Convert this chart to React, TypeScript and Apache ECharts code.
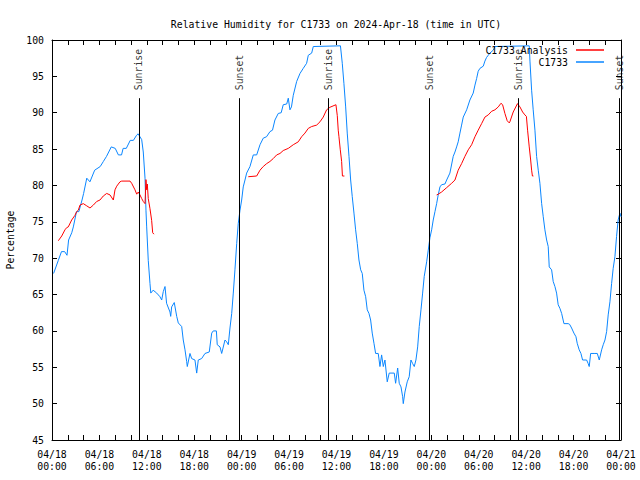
import React, { useEffect, useRef } from 'react';
import * as echarts from 'echarts';

const TITLE = 'Relative Humidity for C1733 on 2024-Apr-18 (time in UTC)';
const STATION = 'C1733';
const ANALYSIS = 'C1733 Analysis';
const Y_NAME = 'Percentage';

// hours after 2024-04-18 00:00 UTC
const sunriseHours = [11, 35, 59];
const sunsetHours = [23.75, 47.75, 71.75];
const eventTop = 92;

const stationHumidity: [number, number][] = [
  [0.2, 67.9], [0.8, 69.7], [1.2, 70.9], [1.6, 70.9], [1.9, 70.4], [2.1, 72.5], [2.5, 73.5], [2.7, 74.3],
  [3.1, 76.4], [3.4, 76.4], [3.8, 78], [4.0, 78.9], [4.4, 81], [4.8, 80.5], [5.4, 82.1], [6.1, 82.6],
  [6.5, 83.3], [6.9, 84], [7.5, 85.3], [8.0, 85.1], [8.4, 84.2], [8.8, 84.2], [9.0, 85.1], [9.4, 85.1],
  [9.9, 86.2], [10.3, 86.2], [10.7, 86.9], [10.9, 87.1], [11.35, 86.3], [11.55, 84.6], [11.77, 81],
  [11.89, 76.6], [11.98, 74.3], [12.18, 69.7], [12.4, 66.5], [12.5, 65.2], [12.8, 65.6], [13.25, 65.2],
  [13.66, 64.7], [13.88, 64.25], [14.08, 65.4], [14.3, 66.1], [14.5, 63.8], [14.93, 62.6], [15.02, 62],
  [15.14, 63.3], [15.47, 63.9], [15.78, 62], [15.98, 61.1], [16.41, 60.6], [16.61, 58.75], [16.83, 57.4],
  [17.04, 55.8], [17.12, 55.1], [17.46, 56.9], [17.67, 56.2], [18.09, 56], [18.31, 54.2], [18.51, 56],
  [18.94, 56.2], [19.36, 56.9], [19.9, 57.1], [20.21, 59.7], [20.41, 60], [20.8, 60], [20.91, 58.1],
  [21.26, 57.8], [21.47, 56.9], [21.89, 58.75], [22.1, 58.5], [22.31, 58.1], [22.52, 60.4], [22.74, 62.4],
  [22.94, 65.2], [23.15, 68.4], [23.37, 72], [23.57, 74.8], [23.79, 76.6], [24.0, 78], [24.2, 79.8],
  [24.42, 80.75], [24.63, 81.7], [25.05, 82.6], [25.47, 84.2], [25.9, 84.2], [26.32, 85.6], [26.73, 86.5],
  [27.15, 86.7], [27.58, 87.4], [27.9, 87.6], [28.21, 89], [28.63, 89.9], [29.0, 90], [29.26, 91.1],
  [29.7, 91.2], [29.9, 92], [30.11, 90.4], [30.3, 90.8], [30.53, 92.4], [30.96, 94.3], [31.38, 95.4],
  [31.79, 96.1], [32.22, 96.8], [32.43, 97.9], [32.86, 98.2], [33.06, 99.1], [36.5, 99.2], [36.73, 96.8],
  [36.94, 94], [37.16, 90.8], [37.36, 87.2], [37.58, 84], [37.79, 80.75], [37.99, 78.5], [38.21, 76.2],
  [38.42, 73.9], [38.63, 72], [38.84, 69.75], [39.06, 68.4], [39.26, 67.9], [39.47, 65.6], [39.69, 64.7],
  [39.89, 62.9], [40.11, 62.4], [40.32, 61.5], [40.52, 59.7], [40.74, 58.3], [40.95, 56.9], [41.28, 56.9],
  [41.5, 55.1], [41.71, 56.7], [41.92, 55.1], [42.13, 56], [42.42, 53], [42.67, 54.2], [43.31, 54.2],
  [43.48, 52.8], [43.74, 54.9], [43.94, 52.8], [44.16, 52.3], [44.37, 50.95], [44.45, 50], [44.66, 51.6],
  [44.95, 53], [45.2, 53.7], [45.42, 56], [45.64, 55.5], [45.84, 55.1], [46.05, 56], [46.27, 57.8],
  [46.47, 60.6], [46.69, 62.9], [46.9, 65.2], [47.1, 67.5], [47.41, 69.5], [47.61, 71.1], [47.82, 72.8],
  [48.04, 73.9], [48.24, 75.25], [48.46, 76.4], [48.67, 77.5], [48.87, 78.7], [49.09, 79.8], [49.3, 80.1],
  [49.72, 80.2], [49.94, 80.75], [50.35, 81.7], [50.77, 84], [50.99, 84.6], [51.2, 85.3], [51.4, 86],
  [51.62, 87.2], [51.83, 88.3], [52.04, 89.4], [52.47, 90.4], [52.88, 91.75], [53.3, 92.7], [53.52, 93.8],
  [53.73, 94.7], [53.93, 95.7], [54.15, 96.1], [54.57, 96.4], [54.78, 97.1], [54.99, 97.6], [55.2, 97.9],
  [55.42, 98.2], [55.83, 98.6], [56.05, 99.1], [60.39, 99.2], [60.48, 97.1], [60.69, 93.1], [60.89, 90.4],
  [61.11, 87.6], [61.32, 84], [61.53, 82.1], [61.74, 80.3], [61.96, 77.5], [62.16, 75.7], [62.37, 73.9],
  [62.59, 72.5], [62.79, 71.6], [62.92, 68.8], [63.22, 68.4], [63.42, 66.8], [63.64, 66.1], [63.85, 65.2],
  [64.05, 63.6], [64.27, 63.1], [64.49, 62.4], [64.78, 61], [65.32, 61], [65.5, 60.9], [65.75, 60.4],
  [66.04, 59.7], [66.3, 59.2], [66.46, 58.3], [66.71, 57.4], [66.93, 56.9], [67.14, 56], [67.65, 56],
  [67.85, 55.5], [67.98, 55.1], [68.16, 56.9], [68.7, 56.9], [69.0, 56.9], [69.25, 56], [69.55, 57.4],
  [69.75, 58.1], [69.97, 58.75], [70.18, 59.9], [70.38, 62.2], [70.6, 64], [70.81, 66.5], [71.01, 68.6],
  [71.23, 70.2], [71.44, 73], [71.64, 75.25], [71.86, 76.2], [72, 75.7],
];

const analysisDay1: [number, number][] = [
  [0.8, 72.4], [1.23, 73.05], [1.64, 73.9], [1.86, 74.2], [2.06, 74.3], [2.49, 75.25], [2.91, 75.9],
  [3.12, 76.4], [3.33, 76.6], [3.54, 77.3], [3.96, 77.5], [4.39, 77.2], [4.81, 76.9], [5.23, 77.3],
  [5.66, 77.8], [6.07, 78], [6.49, 78.55], [6.92, 78.9], [7.34, 78.7], [7.76, 78], [7.97, 79.4],
  [8.19, 79.9], [8.6, 80.5], [8.82, 80.6], [9.87, 80.6], [10.08, 80.3], [10.5, 79.4], [10.72, 78.8],
  [10.92, 79.1], [11.13, 78.7], [11.35, 78.2], [11.55, 77.8], [11.77, 77.5], [11.89, 80.8], [11.98, 79.4],
  [12.06, 80.2], [12.18, 78.2], [12.4, 76.8], [12.61, 75.2], [12.74, 73.5], [12.9, 73.3],
];

const analysisDay2: [number, number][] = [
  [24.84, 81.2], [25.9, 81.3], [26.32, 82.1], [26.73, 82.6], [27.16, 83], [27.58, 83.3], [28.0, 83.7],
  [28.43, 84.2], [28.85, 84.4], [29.26, 84.8], [29.9, 85.1], [30.53, 85.6], [31.16, 86], [31.59, 86.7],
  [32.01, 87.2], [32.43, 87.85], [32.86, 88.1], [33.49, 88.3], [33.91, 88.75], [34.32, 89.4],
  [34.75, 90.4], [35.17, 90.75], [35.93, 91.1], [36.1, 89.6], [36.22, 87.6], [36.31, 86.7],
  [36.48, 84.9], [36.65, 83.3], [36.75, 81.3], [37.0, 81.3],
];

const analysisDay3: [number, number][] = [
  [48.67, 78.7], [48.87, 78.8], [49.3, 79.1], [49.94, 79.7], [50.57, 80.3], [50.99, 80.75], [51.4, 82.1],
  [51.83, 83], [52.25, 84], [52.67, 84.9], [53.1, 85.6], [53.52, 86.7], [53.93, 87.6], [54.36, 88.5],
  [54.78, 89.4], [55.2, 89.7], [55.63, 90.2], [56.05, 90.4], [56.47, 90.8], [56.81, 91.3], [57.02, 91.1],
  [57.31, 89.9], [57.6, 88.9], [57.86, 88.6], [57.94, 88.75], [58.36, 90.1], [58.9, 91.25], [59.21, 90.8],
  [59.55, 90.1], [59.84, 89.7], [60.03, 89.5], [60.18, 87.6], [60.39, 85.3], [60.57, 83.5], [60.69, 82.1],
  [60.79, 81.3], [60.92, 81.3],
];

const FONT = 'DejaVu Sans Mono';
const RED = '#ff0000';
const BLUE = '#0a86ff';

function xLabel(v: number): string {
  if (v % 6 !== 0) return '';
  const day = 18 + Math.floor(v / 24);
  const hh = v % 24;
  const p = (n: number) => (n < 10 ? '0' + n : '' + n);
  return `04/${p(day)}\n${p(hh)}:00`;
}

export default function App() {
  const ref = useRef<HTMLDivElement>(null);
  useEffect(() => {
    if (!ref.current) return;
    const chart = echarts.init(ref.current, null, { renderer: 'svg' });
    const events = [
      ...sunriseHours.map((t) => ({ name: 'Sunrise', value: [t, eventTop] })),
      ...sunsetHours.map((t) => ({ name: 'Sunset', value: [t, eventTop] })),
    ];
    const axisCommon = {
      type: 'value' as const,
      axisLine: { show: true, onZero: false, lineStyle: { color: '#000', width: 1 } },
      axisTick: { show: true, inside: true, length: 5, lineStyle: { color: '#000' } },
      splitLine: { show: false },
    };
    const analysisSeries = [analysisDay1, analysisDay2, analysisDay3].map((d) => ({
      type: 'line',
      name: ANALYSIS,
      data: d,
      symbol: 'none',
      lineStyle: { color: RED, width: 1 },
      itemStyle: { color: RED },
      z: 3,
    }));
    chart.setOption({
      animation: false,
      backgroundColor: '#fff',
      title: {
        text: TITLE,
        left: 331,
        top: 14,
        textAlign: 'center',
        textStyle: { fontFamily: FONT, fontSize: 9.8, fontWeight: 'normal', color: '#000' },
      },
      legend: {
        data: [
          { name: ANALYSIS, icon: 'rect', itemStyle: { color: RED } },
          { name: STATION, icon: 'rect', itemStyle: { color: BLUE } },
        ],
        orient: 'vertical',
        right: 31,
        top: 39,
        align: 'right',
        itemWidth: 28,
        itemHeight: 1.5,
        itemGap: 0,
        textStyle: { fontFamily: FONT, fontSize: 9.8, color: '#000', padding: [0, 3, 0, 0], lineHeight: 12 },
      },
      grid: { left: 52, right: 19, top: 40, bottom: 40, containLabel: false, outerBoundsMode: 'none' },
      xAxis: [
        {
          ...axisCommon,
          position: 'bottom',
          min: 0,
          max: 72,
          interval: 2,
          axisLabel: {
            formatter: xLabel,
            fontFamily: FONT,
            fontSize: 9.8,
            color: '#000',
            lineHeight: 12,
            margin: 8,
            showMinLabel: true,
            showMaxLabel: true,
          },
        },
        {
          ...axisCommon,
          position: 'top',
          min: 0,
          max: 72,
          interval: 2,
          axisLabel: { show: false },
        },
      ],
      yAxis: [
        {
          ...axisCommon,
          position: 'left',
          min: 45,
          max: 100,
          interval: 5,
          name: Y_NAME,
          nameLocation: 'middle',
          nameGap: 37,
          nameTextStyle: { fontFamily: FONT, fontSize: 9.8, color: '#000' },
          axisLabel: { fontFamily: FONT, fontSize: 9.8, color: '#000', margin: 8 },
        },
        {
          ...axisCommon,
          position: 'right',
          min: 45,
          max: 100,
          interval: 5,
          axisLabel: { show: false },
        },
      ],
      series: [
        ...analysisSeries,
        {
          type: 'line',
          name: STATION,
          data: stationHumidity,
          symbol: 'none',
          lineStyle: { color: BLUE, width: 1 },
          itemStyle: { color: BLUE },
          z: 2,
        },
        {
          type: 'scatter',
          name: 'events',
          data: events,
          symbolSize: 0,
          silent: true,
          label: {
            show: true,
            formatter: '{b}',
            position: 'top',
            distance: 6,
            rotate: 90,
            align: 'left',
            verticalAlign: 'middle',
            offset: [2, 0],
            fontFamily: FONT,
            fontSize: 9.8,
            color: '#000',
          },
          markLine: {
            silent: true,
            symbol: 'none',
            label: { show: false },
            lineStyle: { color: '#000', width: 1, type: 'solid' },
            data: [...sunriseHours, ...sunsetHours].map((t) => [
              { coord: [t, 45] },
              { coord: [t, eventTop] },
            ]),
          },
          z: 4,
        },
      ],
    });
    return () => chart.dispose();
  }, []);
  return (
    <div
      ref={ref}
      style={{ position: 'absolute', left: 0, top: 0, width: 640, height: 480, background: '#fff' }}
    />
  );
}
